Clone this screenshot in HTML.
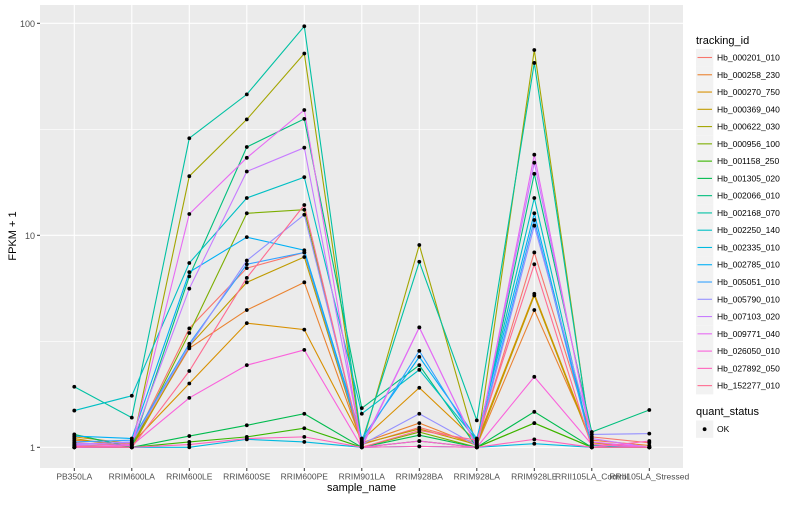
<!DOCTYPE html>
<html><head><meta charset="utf-8"><style>
body{margin:0;background:#fff;font-family:"Liberation Sans",sans-serif}
svg text{font-family:"Liberation Sans",sans-serif}
</style></head><body>
<svg id="chart" width="800" height="500" xmlns="http://www.w3.org/2000/svg"></svg>
<script>
const categories=["PB350LA","RRIM600LA","RRIM600LE","RRIM600SE","RRIM600PE","RRIM901LA","RRIM928BA","RRIM928LA","RRIM928LE","RRII105LA_Control","RRII105LA_Stressed"];
const seriesNames=["Hb_000201_010","Hb_000258_230","Hb_000270_750","Hb_000369_040","Hb_000622_030","Hb_000956_100","Hb_001158_250","Hb_001305_020","Hb_002066_010","Hb_002168_070","Hb_002250_140","Hb_002335_010","Hb_002785_010","Hb_005051_010","Hb_005790_010","Hb_007103_020","Hb_009771_040","Hb_026050_010","Hb_027892_050","Hb_152277_010"];
const colors=["#F8766D","#EA8331","#D89000","#C09B00","#A3A500","#7CAE00","#39B600","#00BB4E","#00BF7D","#00C1A3","#00BFC4","#00BAE0","#00B0F6","#35A2FF","#9590FF","#C77CFF","#E76BF3","#FA62DB","#FF62BC","#FF6C91"];
const s0=[1.05,1.02,3.64,7.0,8.3,1.03,1.24,1.05,8.3,1.12,1.05];
const s1=[1.08,1.03,2.93,4.44,6.0,1.05,1.3,1.02,4.44,1.08,1.02];
const s2=[1.12,1.04,2.0,3.85,3.59,1.08,1.91,1.06,5.3,1.05,1.0];
const s3=[1.1,1.0,3.0,6.0,7.9,1.04,1.22,1.03,5.2,1.03,1.0];
const s4=[1.02,1.0,19,35.2,72,1.02,9.0,1.0,74.8,1.0,1.0];
const s5=[1.0,1.0,3.46,12.7,13.2,1.0,1.18,1.0,1.3,1.0,1.0];
const s6=[1.0,1.0,1.06,1.12,1.23,1.0,1.07,1.0,1.3,1.0,1.0];
const s7=[1.15,1.0,1.13,1.27,1.44,1.0,1.14,1.0,1.47,1.0,1.0];
const s8=[1.0,1.0,6.4,26.1,35.4,1.53,2.44,1.0,19.5,1.18,1.5];
const s9=[1.93,1.38,28.7,46.2,96.8,1.06,7.5,1.34,65,1.02,1.0];
const s10=[1.49,1.75,7.4,15,18.8,1.44,2.32,1.08,15,1.0,1.0];
const s11=[1.0,1.0,1.0,1.09,1.06,1.0,1.01,1.0,1.04,1.0,1.0];
const s12=[1.13,1.1,6.7,9.8,8.5,1.1,2.67,1.1,12.7,1.0,1.0];
const s13=[1.06,1.08,3.08,7.3,8.3,1.06,2.85,1.04,11.8,1.0,1.0];
const s14=[1.03,1.06,3.0,7.6,12.5,1.03,1.44,1.02,11.1,1.15,1.16];
const s15=[1.04,1.05,5.6,20,25.9,1.02,3.68,1.0,22,1.1,1.0];
const s16=[1.02,1.03,12.6,23.2,39,1.0,3.68,1.0,24,1.06,1.0];
const s17=[1.0,1.02,1.71,2.44,2.88,1.0,1.07,1.0,2.15,1.03,1.0];
const s18=[1.0,1.0,1.03,1.1,1.12,1.0,1.01,1.0,1.09,1.0,1.07];
const s19=[1.01,1.0,2.29,6.3,13.9,1.0,1.2,1.08,7.3,1.0,1.0];
const series=[s0,s1,s2,s3,s4,s5,s6,s7,s8,s9,s10,s11,s12,s13,s14,s15,s16,s17,s18,s19];
const yTicks=[1,10,100];
const yTickLabels=["1","10","100"];

const NS="http://www.w3.org/2000/svg";
const svg=document.getElementById('chart');
const P={l:40,r:683,t:5,b:468};
const x=i=>74.3+57.5*i;
const y=v=>447.3-212*Math.log10(v);
function mk(tag,attrs,parent){const e=document.createElementNS(NS,tag);for(const k in attrs)e.setAttribute(k,attrs[k]);(parent||svg).appendChild(e);return e;}

const panel=mk('rect',{x:P.l,y:P.t,width:P.r-P.l,height:P.b-P.t,fill:'#EBEBEB'});


// minor grid
for(let k=0;k<yTicks.length-1;k++){
  const m=Math.sqrt(yTicks[k]*yTicks[k+1]);
  const g=mk('line',{x1:P.l,x2:P.r,y1:y(m),y2:y(m),stroke:'#fff','stroke-width':0.6});
  
  
}
yTicks.forEach((t,k)=>{
  const g=mk('line',{x1:P.l,x2:P.r,y1:y(t),y2:y(t),stroke:'#fff','stroke-width':1.1});
  
  
  const tk=mk('line',{x1:P.l-3,x2:P.l,y1:y(t),y2:y(t),stroke:'#333','stroke-width':1});
  
  
  const tl=mk('text',{x:P.l-5,y:y(t)+3.5,'text-anchor':'end','font-size':9,fill:'#4D4D4D'});
  tl.textContent=yTickLabels[k];
  
  
});
categories.forEach((c,i)=>{
  const g=mk('line',{x1:x(i),x2:x(i),y1:P.t,y2:P.b,stroke:'#fff','stroke-width':1.1});
  
  
  const tk=mk('line',{x1:x(i),x2:x(i),y1:P.b,y2:P.b+3,stroke:'#333','stroke-width':1});
  
  
  const tl=mk('text',{x:x(i),y:P.b+11.5,'text-anchor':'middle','font-size':8.5,fill:'#4D4D4D'});
  tl.textContent=c;
  
  
});
series.forEach((s,j)=>{
  const pl=mk('polyline',{points:s.map((v,i)=>x(i)+','+y(v)).join(' '),fill:'none',stroke:colors[j],'stroke-width':1.1});
  
  
});
series.forEach((s,j)=>{
  s.forEach((v,i)=>{
    const p=mk('circle',{cx:x(i),cy:y(v),r:1.9,fill:'#000'});
    
    
  });
});
const xt=mk('text',{x:(P.l+P.r)/2,y:491,'text-anchor':'middle','font-size':11,fill:'#000'});
xt.textContent='sample_name';


const yt=mk('text',{x:0,y:0,'text-anchor':'middle','font-size':11,fill:'#000',transform:'translate(16,236) rotate(-90)'});
yt.textContent='FPKM + 1';


// legend
const lt=mk('text',{x:696,y:44,'font-size':11,fill:'#000'});
lt.textContent='tracking_id';


seriesNames.forEach((n,j)=>{
  const cy=57.5+17.27*j;
  const g=mk('g',{});
  
  
  mk('rect',{x:696,y:cy-8.6,width:17.3,height:17.3,fill:'#F2F2F2'},g);
  mk('line',{x1:697.5,x2:712,y1:cy,y2:cy,stroke:colors[j],'stroke-width':1.1},g);
  const t=mk('text',{x:717,y:cy+3,'font-size':8.5,fill:'#000'},g);
  t.textContent=n;
});
const qt=mk('text',{x:696,y:415,'font-size':11,fill:'#000'});
qt.textContent='quant_status';


const qg=mk('g',{});


mk('rect',{x:696,y:420.5,width:17.3,height:17.3,fill:'#F2F2F2'},qg);
mk('circle',{cx:704.6,cy:429.2,r:1.9,fill:'#000'},qg);
const okt=mk('text',{x:717,y:432.2,'font-size':8.5,fill:'#000'},qg);
okt.textContent='OK';
</script>
</body></html>
